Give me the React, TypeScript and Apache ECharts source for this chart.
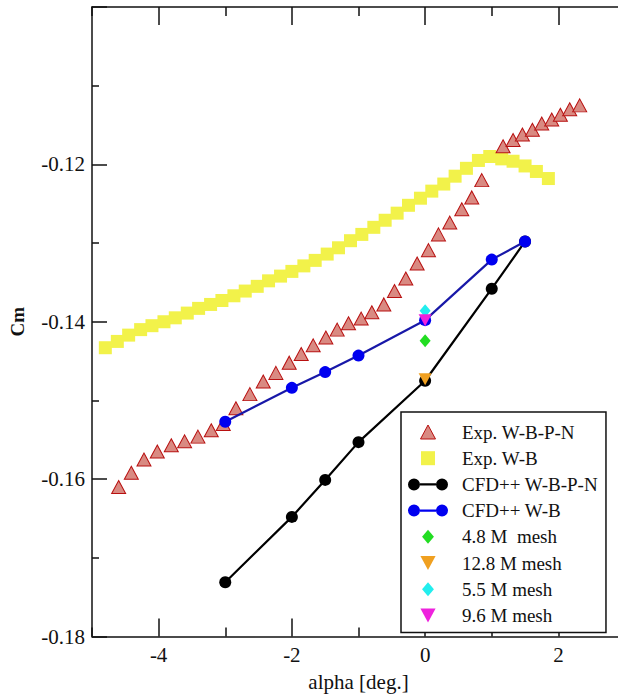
import React, { useEffect, useRef } from "react";
import * as echarts from "echarts";

// ---- data ----
const expWBPNAlpha = [-4.6, -4.41, -4.22, -4.02, -3.81, -3.61, -3.41, -3.21, -3.03, -2.84, -2.63, -2.43, -2.24, -2.04, -1.86, -1.68, -1.49, -1.32, -1.15, -0.96, -0.8, -0.62, -0.46, -0.29, -0.12, 0.05, 0.2, 0.37, 0.55, 0.7, 0.85, 1.17, 1.32, 1.46, 1.61, 1.75, 1.9, 2.03, 2.17, 2.32];
const expWBPNCm = [-0.161, -0.1592, -0.1575, -0.1565, -0.1557, -0.1552, -0.1546, -0.1538, -0.153, -0.151, -0.1492, -0.1476, -0.1465, -0.1452, -0.1441, -0.143, -0.142, -0.141, -0.1402, -0.1396, -0.1388, -0.1378, -0.1361, -0.1345, -0.1326, -0.1309, -0.1289, -0.1274, -0.1257, -0.1242, -0.122, -0.1177, -0.1169, -0.1162, -0.1156, -0.1148, -0.1143, -0.1137, -0.113, -0.1125];

const expWBAlpha = [-4.8, -4.62, -4.45, -4.27, -4.1, -3.92, -3.75, -3.57, -3.4, -3.22, -3.05, -2.87, -2.7, -2.52, -2.35, -2.17, -2.0, -1.82, -1.65, -1.47, -1.3, -1.12, -0.95, -0.77, -0.6, -0.42, -0.25, -0.07, 0.1, 0.28, 0.45, 0.62, 0.8, 0.97, 1.15, 1.32, 1.5, 1.67, 1.85];
const expWBCm = [-0.1433, -0.1425, -0.1417, -0.141, -0.1405, -0.14, -0.1395, -0.1389, -0.1383, -0.1378, -0.1373, -0.1367, -0.1361, -0.1355, -0.1348, -0.1342, -0.1336, -0.1329, -0.1322, -0.1314, -0.1306, -0.1297, -0.1289, -0.128, -0.1271, -0.1262, -0.1252, -0.1243, -0.1234, -0.1225, -0.1215, -0.1205, -0.1195, -0.119, -0.1193, -0.1196, -0.1202, -0.1209, -0.1218];

const cfdAlpha = [-3, -2, -1.5, -1, 0, 1, 1.5];
const cfdWBPNCm = [-0.1731, -0.1648, -0.1601, -0.1553, -0.1475, -0.1358, -0.1298];
const cfdWBCm = [-0.1527, -0.1484, -0.1464, -0.1443, -0.1398, -0.1321, -0.1298];

const meshAlpha = 0;
const mesh48Cm = -0.1424;
const mesh128Cm = -0.1473;
const mesh55Cm = -0.1386;
const mesh96Cm = -0.1398;

const xMajorTicks = [-4, -2, 0, 2];
const xMinorTicks = [-5, -3, -1, 1, 3];

const names = [
  "Exp. W-B-P-N",
  "Exp. W-B",
  "CFD++ W-B-P-N",
  "CFD++ W-B",
  "4.8 M  mesh",
  "12.8 M mesh",
  "5.5 M mesh",
  "9.6 M mesh",
];

const pts = (xs: number[], ys: number[]) => xs.map((x, i) => [x, ys[i]]);

const FONT = "Liberation Serif, Times New Roman, serif";
const lineIcon =
  "path://M0,7a6,6 0 1,0 12,0a6,6 0 1,0 -12,0Z M28,7a6,6 0 1,0 12,0a6,6 0 1,0 -12,0Z M12,5.8L28,5.8L28,8.2L12,8.2Z";
const upTriIcon = "path://M7.5,0L15,14L0,14Z";
const downTriIcon = "path://M0,0L13,0L6.5,12Z";
const squareIcon = "path://M0,0h14v14h-14Z";
const diamondIcon = "path://M5.5,0L11,6.5L5.5,13L0,6.5Z";

export default function App() {
  const ref = useRef<HTMLDivElement>(null);
  useEffect(() => {
    const chart = echarts.init(ref.current!, null, { renderer: "svg" });
    const axisLine = { show: true, onZero: false, lineStyle: { color: "#111", width: 1.5 } };
    const xCommon = { type: "value", min: -5, max: 3, splitLine: { show: false } };
    chart.setOption({
      animation: false,
      backgroundColor: "#fff",
      grid: { left: 91, top: 7, right: 15, bottom: 62.5, containLabel: false },
      xAxis: [
        {
          ...xCommon,
          position: "bottom",
          axisLine,
          name: "alpha [deg.]",
          nameLocation: "middle",
          nameGap: 35,
          nameMoveOverlap: false,
          nameTextStyle: { fontFamily: FONT, fontSize: 21, color: "#111" },
          axisTick: { show: true, inside: true, length: 18, customValues: xMajorTicks, lineStyle: { color: "#111", width: 1.5 } },
          axisLabel: { show: true, customValues: xMajorTicks, margin: 8, fontFamily: FONT, fontSize: 21, color: "#111" },
        },
        {
          ...xCommon,
          position: "bottom",
          axisLine: { show: false, onZero: false },
          axisTick: { show: true, inside: true, length: 9, customValues: xMinorTicks, lineStyle: { color: "#111", width: 1.5 } },
          axisLabel: { show: false },
        },
        {
          ...xCommon,
          position: "top",
          axisLine,
          axisTick: { show: true, inside: true, length: 18, customValues: xMajorTicks, lineStyle: { color: "#111", width: 1.5 } },
          axisLabel: { show: false },
        },
        {
          ...xCommon,
          position: "top",
          axisLine: { show: false, onZero: false },
          axisTick: { show: true, inside: true, length: 9, customValues: xMinorTicks, lineStyle: { color: "#111", width: 1.5 } },
          axisLabel: { show: false },
        },
      ],
      yAxis: {
        type: "value",
        min: -0.18,
        max: -0.1,
        interval: 0.02,
        position: "left",
        axisLine,
        splitLine: { show: false },
        axisTick: { show: true, inside: true, length: 15, lineStyle: { color: "#111", width: 1.5 } },
        minorTick: { show: true, splitNumber: 2, length: 7, lineStyle: { color: "#111", width: 1.5 } },
        axisLabel: {
          showMaxLabel: false,
          margin: 7,
          fontFamily: FONT,
          fontSize: 21,
          color: "#111",
          formatter: (v: number) => v.toFixed(2),
        },
        name: "Cm",
        nameLocation: "middle",
        nameGap: 65,
        nameMoveOverlap: false,
        nameTextStyle: { fontFamily: FONT, fontSize: 19, fontWeight: "bold", color: "#111" },
      },
      legend: {
        orient: "vertical",
        left: 401,
        top: 412,
        padding: [10, 8, 7, 7],
        itemGap: 6.2,
        itemWidth: 40,
        itemHeight: 14,
        symbolKeepAspect: true,
        borderColor: "#111",
        borderWidth: 1.5,
        backgroundColor: "#fff",
        textStyle: { fontFamily: FONT, fontSize: 19, lineHeight: 20, color: "#111", padding: [0, 0, 0, 9] },
        data: [
          { name: names[0], icon: upTriIcon, itemStyle: { color: "#d98a82", borderColor: "#b81010", borderWidth: 1 } },
          { name: names[1], icon: squareIcon, itemStyle: { color: "#f2f24a", borderWidth: 0 } },
          { name: names[2], icon: lineIcon, itemStyle: { color: "#000", borderWidth: 0 } },
          { name: names[3], icon: lineIcon, itemStyle: { color: "#0000f0", borderWidth: 0 } },
          { name: names[4], icon: diamondIcon, itemStyle: { color: "#22dd22", borderWidth: 0 } },
          { name: names[5], icon: downTriIcon, itemStyle: { color: "#f0a020", borderWidth: 0 } },
          { name: names[6], icon: diamondIcon, itemStyle: { color: "#22eeee", borderWidth: 0 } },
          { name: names[7], icon: downTriIcon, itemStyle: { color: "#ee22dd", borderWidth: 0 } },
        ],
      },
      series: [
        {
          name: names[1],
          type: "scatter",
          symbol: "rect",
          symbolSize: 13,
          itemStyle: { color: "#f2f24a", opacity: 1 },
          data: pts(expWBAlpha, expWBCm),
          z: 2,
        },
        {
          name: names[0],
          type: "scatter",
          symbol: "triangle",
          symbolSize: [14, 13],
          itemStyle: { color: "#d98a82", borderColor: "#b81010", borderWidth: 1, opacity: 1 },
          data: pts(expWBPNAlpha, expWBPNCm),
          z: 3,
        },
        {
          name: names[2],
          type: "line",
          symbol: "circle",
          symbolSize: 12,
          showAllSymbol: true,
          lineStyle: { color: "#000", width: 2.2 },
          itemStyle: { color: "#000" },
          data: pts(cfdAlpha, cfdWBPNCm),
          z: 4,
        },
        {
          name: names[3],
          type: "line",
          symbol: "circle",
          symbolSize: 12,
          showAllSymbol: true,
          lineStyle: { color: "#1818a8", width: 2.2 },
          itemStyle: { color: "#0000f0" },
          data: pts(cfdAlpha, cfdWBCm),
          z: 5,
        },
        {
          name: names[4],
          type: "scatter",
          symbol: "diamond",
          symbolSize: [11, 13],
          itemStyle: { color: "#22dd22", opacity: 1 },
          data: [[meshAlpha, mesh48Cm]],
          z: 6,
        },
        {
          name: names[5],
          type: "scatter",
          symbol: "triangle",
          symbolRotate: 180,
          symbolSize: [13, 12],
          itemStyle: { color: "#f0a020", opacity: 1 },
          data: [[meshAlpha, mesh128Cm]],
          z: 6,
        },
        {
          name: names[6],
          type: "scatter",
          symbol: "diamond",
          symbolSize: [11, 13],
          itemStyle: { color: "#22eeee", opacity: 1 },
          data: [[meshAlpha, mesh55Cm]],
          z: 6,
        },
        {
          name: names[7],
          type: "scatter",
          symbol: "triangle",
          symbolRotate: 180,
          symbolSize: [13, 12],
          itemStyle: { color: "#ee22dd", opacity: 1 },
          data: [[meshAlpha, mesh96Cm]],
          z: 7,
        },
      ],
    });
    return () => chart.dispose();
  }, []);
  return (
    <div
      style={{
        position: "fixed",
        left: 0,
        top: 0,
        width: 618,
        height: 699,
        overflow: "hidden",
        background: "#fff",
      }}
    >
      <div ref={ref} style={{ width: 640, height: 699 }} />
    </div>
  );
}
